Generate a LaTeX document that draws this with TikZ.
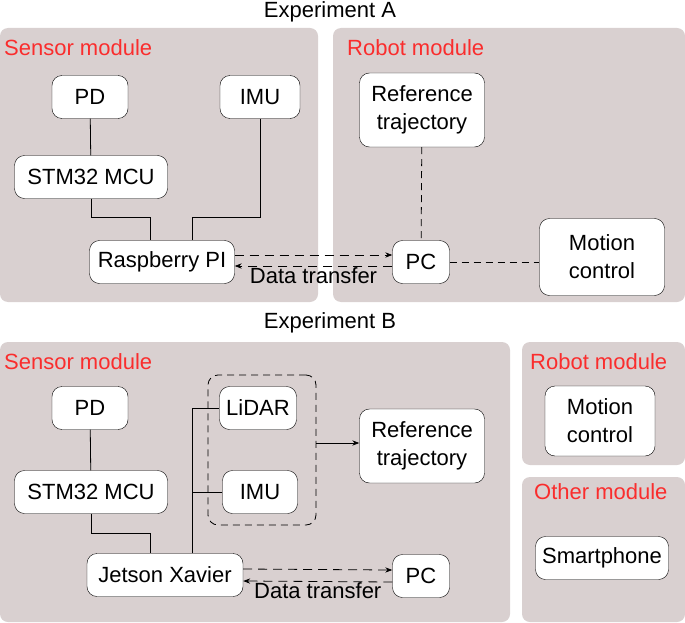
\documentclass[tikz,border=0pt]{standalone}
\usepackage{fontspec}
\setmainfont{Liberation Sans}
\usetikzlibrary{arrows.meta}
\definecolor{panelgray}{RGB}{217,208,208}
\definecolor{modred}{RGB}{250,45,45}
\begin{document}
\begin{tikzpicture}[x=1pt,y=-1pt,font=\fontsize{22}{28}\selectfont]
    \tikzstyle{panel}=[fill=panelgray,rounded corners=8pt]
    \tikzstyle{box}=[rectangle,draw,fill=white,rounded corners=10pt,align=center,inner sep=0pt]
    \tikzstyle{modlabel}=[anchor=west,text=modred,inner sep=0pt]
    \tikzstyle{link}=[thick]
    \tikzstyle{dlink}=[thick,dash pattern=on 7pt off 5pt]
    \tikzstyle{transfer}=[thick,dash pattern=on 9pt off 6pt,-{Stealth[length=7pt]}]
    \useasboundingbox (0,0) rectangle (685,623);
    % panels
    \fill [panel] (0,28) rectangle (318,302);
    \fill [panel] (333,28) rectangle (685,302);
    \fill [panel] (0,342) rectangle (510,622);
    \fill [panel] (522,342) rectangle (685,465);
    \fill [panel] (522,477) rectangle (685,622);
    \node (titleA) at (330,12) {Experiment A};
    \node (titleB) at (330,323) {Experiment B};
    \node (sensA) at (4,48) [modlabel] {Sensor module};
    \node (robA) at (347,48) [modlabel] {Robot module};
    \node (sensB) at (4,362) [modlabel] {Sensor module};
    \node (robB) at (530,362) [modlabel] {Robot module};
    \node (othB) at (534,492) [modlabel] {Other module};
    % experiment A
    \node (pdA)   at (90,97)   [box,minimum width=76,minimum height=43]  {PD};
    \node (imuA)  at (260,97)  [box,minimum width=80,minimum height=43]  {IMU};
    \node (mcuA)  at (91,177)  [box,minimum width=153,minimum height=43] {STM32 MCU};
    \node (rpi)   at (162,262) [box,minimum width=145,minimum height=43] {Raspberry PI};
    \node (refA)  at (422,110) [box,minimum width=125,minimum height=74] {Reference\\trajectory};
    \node (pcA)   at (421,262) [box,minimum width=57,minimum height=43]  {PC};
    \node (motA)  at (602,257) [box,minimum width=125,minimum height=77] {Motion\\control};
    \draw [link] (pdA) -- (mcuA);
    \draw [link] (mcuA.south) -- ++(0,19) -| ([xshift=-12]rpi.north);
    \draw [link] (imuA.south) -- ++(0,99) -| ([xshift=30]rpi.north);
    \draw [dlink] (refA) -- (pcA);
    \draw [dlink] (pcA.east) -- (pcA.east -| motA.west);
    \draw [transfer] ([yshift=7]rpi.east) -- ([yshift=7]pcA.west);
    \draw [transfer] ([yshift=-4]pcA.west) -- ([yshift=-4]rpi.east)
        node (dtA) [midway,below=0pt,inner sep=1pt] {Data transfer};
    % experiment B
    \node (pdB)   at (90,408)  [box,minimum width=76,minimum height=43]  {PD};
    \node (mcuB)  at (91,492)  [box,minimum width=153,minimum height=43] {STM32 MCU};
    \node (jet)   at (165,575) [box,minimum width=156,minimum height=43] {Jetson Xavier};
    \node (lidar) at (258,408) [box,minimum width=77,minimum height=43]  {LiDAR};
    \node (imuB)  at (260,492) [box,minimum width=75,minimum height=43]  {IMU};
    \node (grp) [draw,dlink,rounded corners=10pt,minimum width=108,minimum height=150] at (262,450) {};
    \node (refB)  at (422,446) [box,minimum width=125,minimum height=74] {Reference\\trajectory};
    \node (pcB)   at (421,576) [box,minimum width=57,minimum height=43]  {PC};
    \node (motB)  at (600,421) [box,minimum width=110,minimum height=70] {Motion\\control};
    \node (phone) at (602,558) [box,minimum width=133,minimum height=43] {Smartphone};
    \draw [link] (pdB) -- (mcuB);
    \draw [link] (mcuB.south) -- ++(0,20) -| ([xshift=-15]jet.north);
    \draw [link] ([xshift=27]jet.north) |- (lidar.west);
    \draw [link] (imuB.west) -- ++(-30,0);
    \draw [thick,-{Stealth[length=7pt]}] ([yshift=7]grp.east) -- ([yshift=7]grp.east -| refB.west);
    \draw [transfer] ([yshift=6]jet.east) -- ([yshift=6]pcB.west);
    \draw [transfer] ([yshift=-6]pcB.west) -- ([yshift=-6]jet.east)
        node (dtB) [midway,below=0pt,inner sep=1pt] {Data transfer};
\end{tikzpicture}
\end{document}
